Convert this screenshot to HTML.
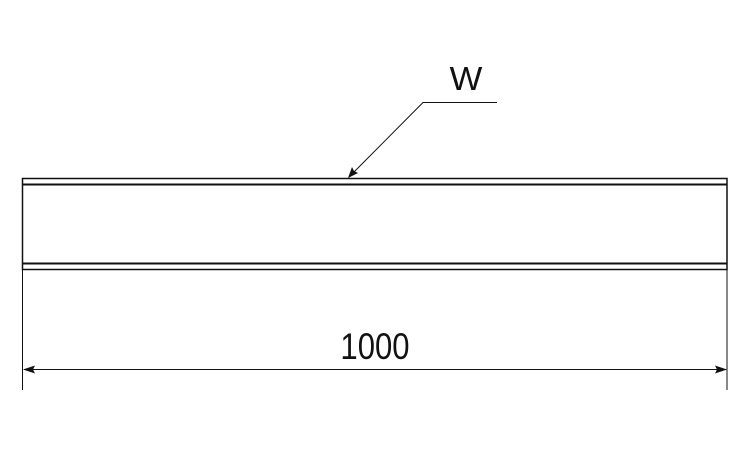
<!DOCTYPE html>
<html><head><style>html,body{margin:0;padding:0;background:#fff;}svg{display:block;}</style></head>
<body>
<svg width="750" height="450" viewBox="0 0 750 450" xmlns="http://www.w3.org/2000/svg">
<g stroke="#111" fill="none">
<rect x="22.5" y="178.5" width="704.5" height="91" stroke-width="1.5"/>
<line x1="22.5" y1="184.5" x2="727" y2="184.5" stroke-width="2"/>
<line x1="22.5" y1="263.5" x2="727" y2="263.5" stroke-width="2"/>
<line x1="22.5" y1="270" x2="22.5" y2="390" stroke-width="1"/>
<line x1="727" y1="270" x2="727" y2="390" stroke-width="1"/>
<line x1="24" y1="369.5" x2="726" y2="369.5" stroke-width="1"/>
<polyline points="349,177 423,102.5 497,102.5" stroke-width="1"/>
</g>
<g fill="#111">
<polygon points="23,369.5 35,365.5 33,369.5 35,373.5"/>
<polygon points="727,369.5 715,365.5 717,369.5 715,373.5"/>
<polygon points="348,178 352,167 354,171 358,173"/>
</g>
<text x="466" y="90" font-family="Liberation Sans, sans-serif" font-size="33" text-anchor="middle" fill="#111" transform="translate(466,0) scale(1.05,1) translate(-466,0)">W</text>
<text x="375" y="359" font-family="Liberation Sans, sans-serif" font-size="37" text-anchor="middle" fill="#111" transform="translate(375,0) scale(0.84,1) translate(-375,0)">1000</text>
</svg>
</body></html>
